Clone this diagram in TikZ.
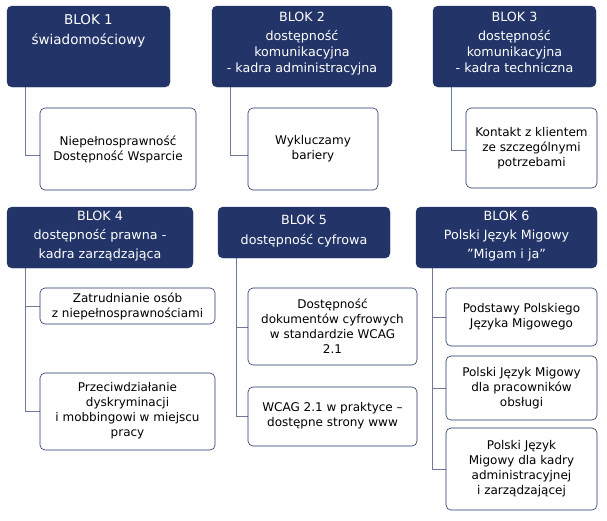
\documentclass[tikz,border=0pt]{standalone}
\usepackage{fontspec}
\setmainfont{DejaVu Sans}
\begin{document}
\begin{tikzpicture}[x=1pt,y=-1pt,
 hdr/.style={fill=navy,draw=navy,rounded corners=5pt},
 ch/.style={draw=navy,line width=0.6pt,fill=white,rounded corners=5pt},
 ht/.style={text=white,align=center,font=\fontsize{12.7}{17}\selectfont,anchor=north},
 ct/.style={align=center,font=\fontsize{12}{15}\selectfont},
 ln/.style={draw=lineg,line width=0.8pt}]
\definecolor{navy}{HTML}{233568}
\definecolor{lineg}{HTML}{6F7A99}
\useasboundingbox (0,0) rectangle (607,520);
% connectors
\draw[ln] (25,87) -- (25,155) -- (40,155);
\draw[ln] (230,87) -- (230,155) -- (248,155);
\draw[ln] (451,87) -- (451,150) -- (466,150);
\draw[ln] (25,268) -- (25,411) -- (40,411); \draw[ln] (25,306) -- (40,306);
\draw[ln] (236,258) -- (236,416) -- (248,416); \draw[ln] (236,327) -- (248,327);
\draw[ln] (432,268) -- (432,469) -- (446,469); \draw[ln] (432,317) -- (446,317); \draw[ln] (432,388) -- (446,388);
% headers
\path[hdr] (7,6) rectangle (170,87); \node[ht,font=\fontsize{13.5}{18}\selectfont] (h1) at (88.5,11) {BLOK 1\\[2pt] świadomościowy};
\path[hdr] (212,6) rectangle (392,87); \node[ht,font=\fontsize{12.7}{16}\selectfont] (h2) at (302,9) {BLOK 2\\[3pt] dostępność\\komunikacyjna\\- kadra administracyjna};
\path[hdr] (433,6) rectangle (596,87); \node[ht,font=\fontsize{12.7}{16}\selectfont] (h3) at (514.5,9) {BLOK 3\\[3pt] dostępność\\komunikacyjna\\- kadra techniczna};
\path[hdr] (7,207) rectangle (193,268); \node[ht,font=\fontsize{12.7}{19}\selectfont] (h4) at (100,208) {BLOK 4\\dostępność prawna -\\kadra zarządzająca};
\path[hdr] (218,207) rectangle (390,258); \node[ht,font=\fontsize{12.7}{20}\selectfont] (h5) at (304,212) {BLOK 5\\dostępność cyfrowa};
\path[hdr] (416,207) rectangle (597,268); \node[ht,font=\fontsize{12.7}{19}\selectfont] (h6) at (506.5,208) {BLOK 6\\Polski Język Migowy\\\symbol{34}Migam i ja\symbol{34}};
% children
\path[ch] (40,108) rectangle (196,190); \node[ct] (c1) at (118,149) {Niepełnosprawność\\Dostępność Wsparcie};
\path[ch] (248,108) rectangle (378,190); \node[ct] (c2) at (313,149) {Wykluczamy\\bariery};
\path[ch] (466,108) rectangle (597,188); \node[ct] (c3) at (531.5,148) {Kontakt z klientem\\ze szczególnymi\\potrzebami};
\path[ch] (40,288) rectangle (215,324); \node[ct] (c41) at (127.5,306) {Zatrudnianie osób\\z niepełnosprawnościami};
\path[ch] (40,373) rectangle (215,450); \node[ct] (c42) at (127.5,411) {Przeciwdziałanie\\dyskryminacji\\i mobbingowi w miejscu\\pracy};
\path[ch] (248,288) rectangle (417,365); \node[ct] (c51) at (332.5,326) {Dostępność\\dokumentów cyfrowych\\w standardzie WCAG\\2.1};
\path[ch] (248,387) rectangle (417,446); \node[ct] (c52) at (332.5,416) {WCAG 2.1 w praktyce –\\dostępne strony www};
\path[ch] (446,288) rectangle (597,346); \node[ct] (c61) at (521.5,317) {Podstawy Polskiego\\Języka Migowego};
\path[ch] (446,356) rectangle (597,420); \node[ct] (c62) at (521.5,388) {Polski Język Migowy\\dla pracowników\\obsługi};
\path[ch] (446,428) rectangle (597,510); \node[ct] (c63) at (521.5,469) {Polski Język\\Migowy dla kadry\\administracyjnej\\i zarządzającej};
\end{tikzpicture}
\end{document}
